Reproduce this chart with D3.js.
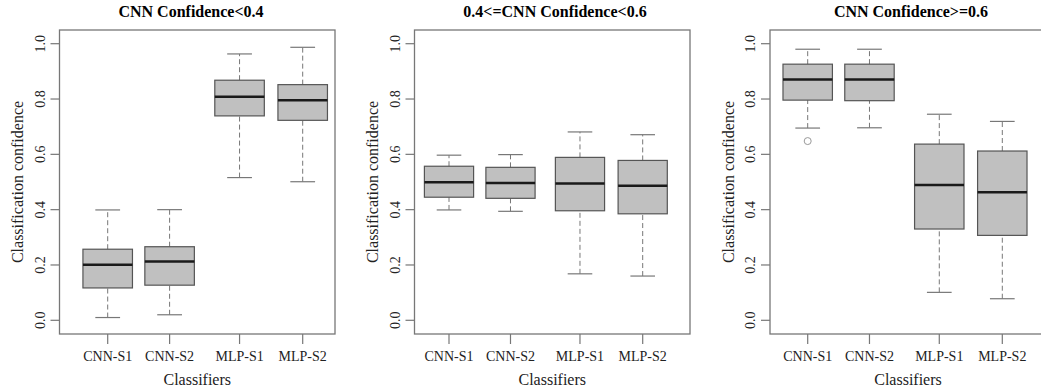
<!DOCTYPE html>
<html>
<head>
<meta charset="utf-8">
<script src="https://cdn.jsdelivr.net/npm/d3@7"></script>
<style>
  body { margin: 0; background: #fff; }
  svg { display: block; font-family: "Liberation Serif", "DejaVu Serif", serif; }
</style>
</head>
<body>
<svg id="chart" width="1041" height="392"></svg>
<script>
// classifiers on the x axis
const classifiers = ["CNN-S1", "CNN-S2", "MLP-S1", "MLP-S2"];
const yTicks = [0.0, 0.2, 0.4, 0.6, 0.8, 1.0];

const panelTitles = ["CNN Confidence<0.4", "0.4<=CNN Confidence<0.6", "CNN Confidence>=0.6"];

// box stats per classifier: [lower whisker, Q1, median, Q3, upper whisker]
const lowConf = [
  [0.010, 0.117, 0.201, 0.257, 0.399],
  [0.020, 0.127, 0.213, 0.266, 0.400],
  [0.516, 0.739, 0.808, 0.868, 0.963],
  [0.501, 0.723, 0.796, 0.852, 0.987]
];
const midConf = [
  [0.399, 0.445, 0.499, 0.557, 0.597],
  [0.394, 0.441, 0.496, 0.553, 0.599],
  [0.168, 0.396, 0.495, 0.589, 0.681],
  [0.160, 0.385, 0.486, 0.578, 0.671]
];
const highConf = [
  [0.695, 0.796, 0.871, 0.926, 0.980],
  [0.696, 0.794, 0.871, 0.926, 0.980],
  [0.101, 0.330, 0.489, 0.637, 0.745],
  [0.078, 0.307, 0.463, 0.612, 0.719]
];
// outliers: [classifier index, value]
const highConfOutliers = [[0, 0.648]];

const panelData = [lowConf, midConf, highConf];
const panelOutliers = [[], [], highConfOutliers];

// layout of the three panels (plot frame in pixels)
const panels = [
  { left: 59.5, right: 335, firstTick: 107.7, lastTick: 302.7, titleX: 191 },
  { left: 414.5, right: 690, firstTick: 449, lastTick: 642.7, titleX: 555 },
  { left: 770, right: 1046, firstTick: 807.7, lastTick: 1002.3, titleX: 911 }
];
const slots = [1, 2, 3.13, 4.15];
const frameTop = 30, frameBottom = 334;

const svg = d3.select("#chart");

const y = d3.scaleLinear().domain([0, 1]).range([320.3, 43.7]);

const frameColor = "#777";
const boxStroke = "#555";

panels.forEach((p, i) => {
  const g = svg.append("g");
  const x = d3.scaleLinear().domain([1, 4.15]).range([p.firstTick, p.lastTick]);
  const halfW = (x(1.8) - x(1)) / 2;
  const stats = panelData[i];

  // title
  g.append("text")
    .attr("x", p.titleX)
    .attr("y", 17)
    .attr("text-anchor", "middle")
    .style("font-size", "16px")
    .style("font-weight", "bold")
    .text(panelTitles[i]);

  // y axis ticks + rotated labels
  const yAxis = g.append("g");
  yAxis.selectAll("line")
    .data(yTicks)
    .join("line")
    .attr("x1", p.left - 9).attr("x2", p.left)
    .attr("y1", d => y(d)).attr("y2", d => y(d))
    .attr("stroke", frameColor).attr("stroke-width", 1.2);
  yAxis.selectAll("text")
    .data(yTicks)
    .join("text")
    .attr("transform", d => `translate(${p.left - 15},${y(d)}) rotate(-90)`)
    .attr("text-anchor", "middle")
    .style("font-size", "14px")
    .attr("fill", "#222")
    .text(d => d3.format(".1f")(d));

  g.append("text")
    .attr("transform", `translate(${p.left - 36.5},${(frameTop + frameBottom) / 2}) rotate(-90)`)
    .attr("text-anchor", "middle")
    .style("font-size", "16px")
    .attr("fill", "#222")
    .text("Classification confidence");

  // x axis ticks + labels
  const xAxis = g.append("g");
  xAxis.selectAll("line")
    .data(classifiers)
    .join("line")
    .attr("x1", (d, k) => x(slots[k])).attr("x2", (d, k) => x(slots[k]))
    .attr("y1", frameBottom).attr("y2", frameBottom + 10)
    .attr("stroke", frameColor).attr("stroke-width", 1.2);
  xAxis.selectAll("text")
    .data(classifiers)
    .join("text")
    .attr("x", (d, k) => x(slots[k]))
    .attr("y", 361)
    .attr("text-anchor", "middle")
    .style("font-size", "14px")
    .attr("fill", "#222")
    .text(d => d);

  g.append("text")
    .attr("x", (p.left + p.right) / 2)
    .attr("y", 385)
    .attr("text-anchor", "middle")
    .style("font-size", "16px")
    .attr("fill", "#222")
    .text("Classifiers");

  // boxes
  const boxes = g.selectAll("g.box")
    .data(stats)
    .join("g")
    .attr("class", "box")
    .attr("transform", (d, k) => `translate(${x(slots[k])},0)`);

  // whiskers (dashed)
  boxes.append("line")
    .attr("y1", d => y(d[0])).attr("y2", d => y(d[1]))
    .attr("stroke", frameColor).attr("stroke-dasharray", "5,3");
  boxes.append("line")
    .attr("y1", d => y(d[3])).attr("y2", d => y(d[4]))
    .attr("stroke", frameColor).attr("stroke-dasharray", "5,3");
  // caps
  boxes.append("line")
    .attr("x1", -halfW / 2).attr("x2", halfW / 2)
    .attr("y1", d => y(d[0])).attr("y2", d => y(d[0]))
    .attr("stroke", frameColor).attr("stroke-width", 1.2);
  boxes.append("line")
    .attr("x1", -halfW / 2).attr("x2", halfW / 2)
    .attr("y1", d => y(d[4])).attr("y2", d => y(d[4]))
    .attr("stroke", frameColor).attr("stroke-width", 1.2);

  boxes.append("rect")
    .attr("x", -halfW)
    .attr("width", halfW * 2)
    .attr("y", d => y(d[3]))
    .attr("height", d => y(d[1]) - y(d[3]))
    .attr("fill", "#c0c0c0")
    .attr("stroke", boxStroke)
    .attr("stroke-width", 1.2);

  boxes.append("line")
    .attr("x1", -halfW).attr("x2", halfW)
    .attr("y1", d => y(d[2])).attr("y2", d => y(d[2]))
    .attr("stroke", "#1a1a1a").attr("stroke-width", 2.5);

  // outliers
  g.selectAll("circle.out")
    .data(panelOutliers[i])
    .join("circle")
    .attr("class", "out")
    .attr("cx", d => x(slots[d[0]]))
    .attr("cy", d => y(d[1]))
    .attr("r", 3.5)
    .attr("fill", "none")
    .attr("stroke", "#999");

  // frame
  g.append("rect")
    .attr("x", p.left).attr("y", frameTop)
    .attr("width", p.right - p.left).attr("height", frameBottom - frameTop)
    .attr("fill", "none")
    .attr("stroke", frameColor)
    .attr("stroke-width", 1.3);
});
</script>
</body>
</html>
